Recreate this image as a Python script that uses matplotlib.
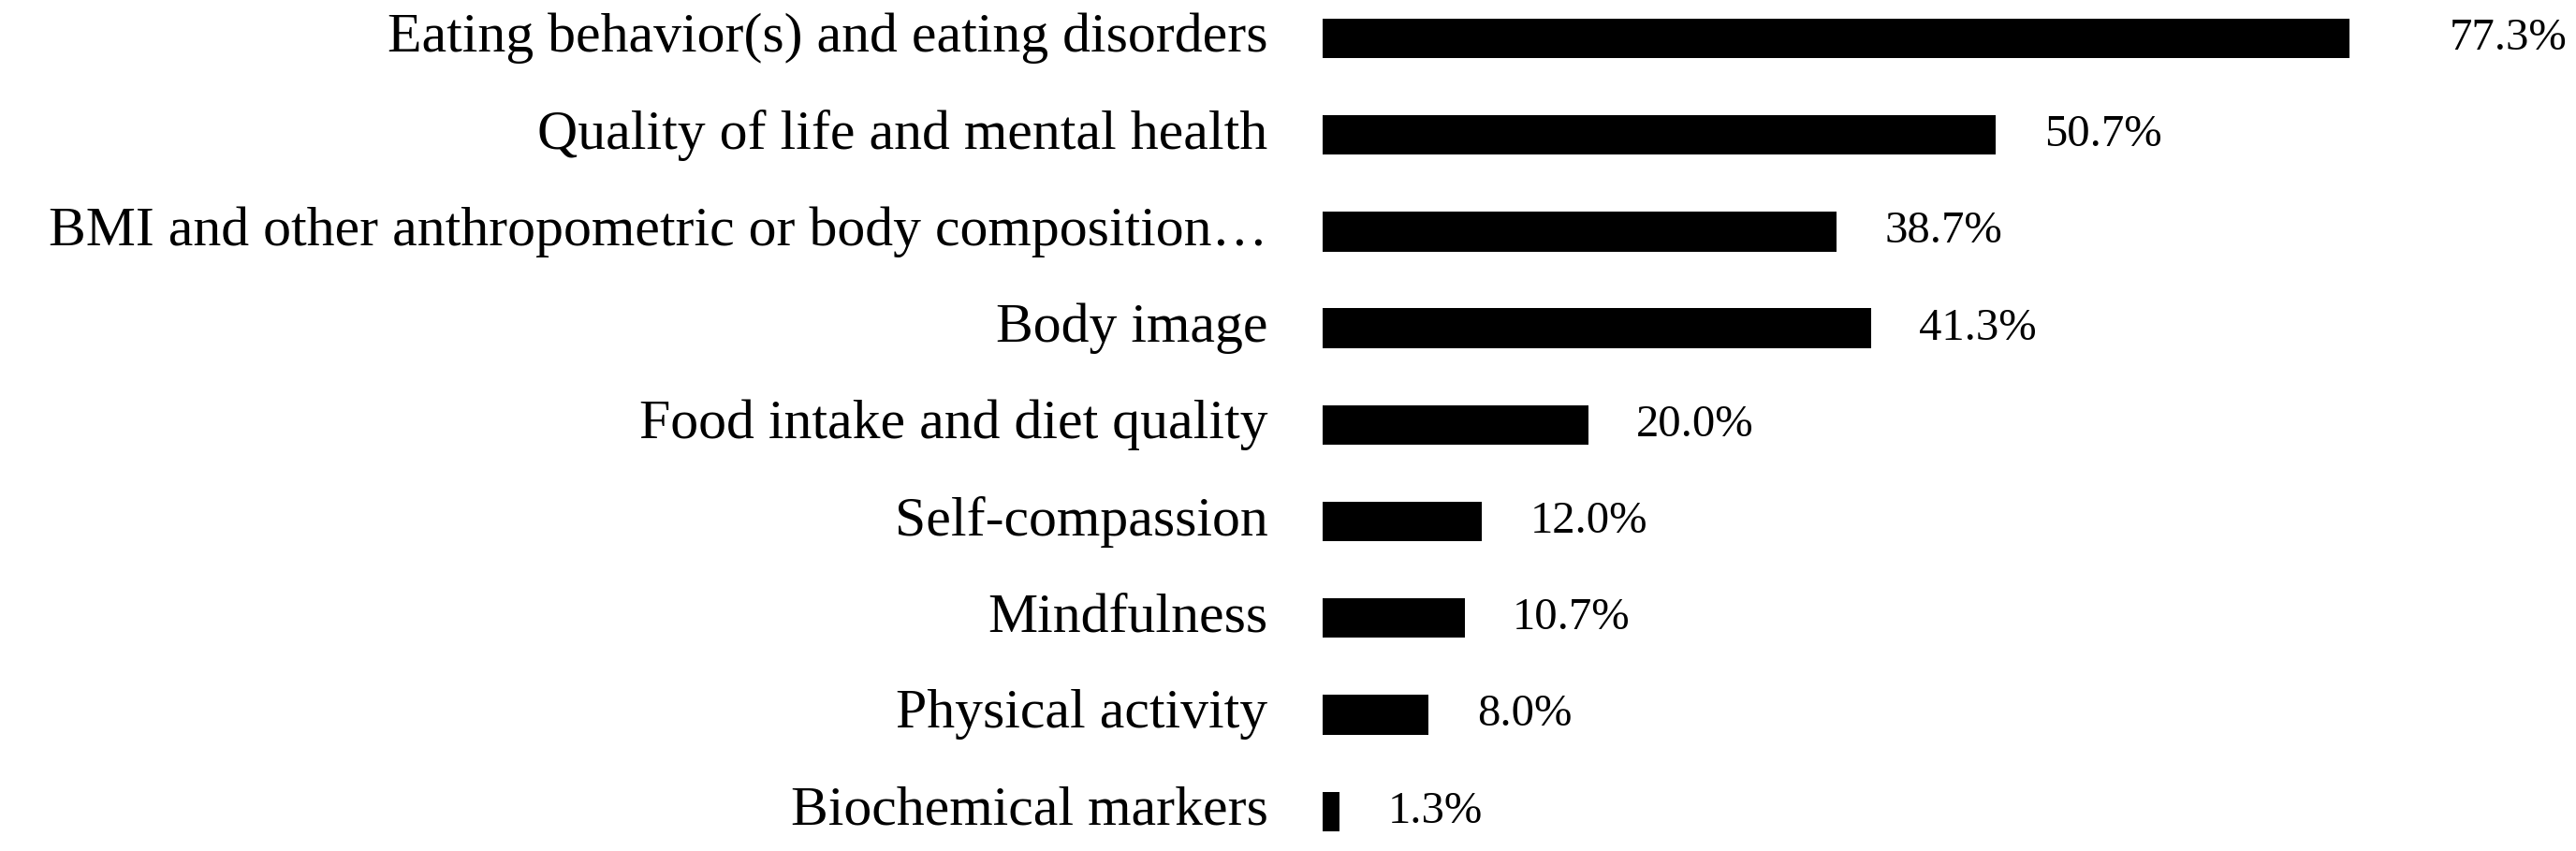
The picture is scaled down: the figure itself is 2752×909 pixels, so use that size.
import matplotlib
matplotlib.use('Agg')
import matplotlib.pyplot as plt

# Outcome domains and share of studies reporting each
categories = [
    'Eating behavior(s) and eating disorders',
    'Quality of life and mental health',
    'BMI and other anthropometric or body composition\u2026',
    'Body image',
    'Food intake and diet quality',
    'Self-compassion',
    'Mindfulness',
    'Physical activity',
    'Biochemical markers',
]
percentages = [77.3, 50.7, 38.7, 41.3, 20.0, 12.0, 10.7, 8.0, 1.3]

plt.rcParams['font.family'] = ['Liberation Serif', 'DejaVu Serif']

fig = plt.figure(figsize=(27.52, 9.09), dpi=100)
ax = fig.add_axes([0.5134, 0.0, 0.4866, 1.0])

y = list(range(len(categories)))
ax.barh(y, percentages, height=0.41, color='black')

ax.set_xlim(0, 94.36)
ax.set_ylim(8.41, -0.397)

for spine in ax.spines.values():
    spine.set_visible(False)
ax.set_xticks([])
ax.set_yticks([])

top = max(percentages)
for yi, (name, val) in enumerate(zip(categories, percentages)):
    ax.annotate(name, xy=(0, yi), xytext=(-42, 0), textcoords='offset points',
                ha='right', va='center', fontsize=43)
    # the longest bar's label sits further out
    gap = 77 if val == top else 37
    ax.annotate(f'{val:.1f}%', xy=(val, yi), xytext=(gap, 0), textcoords='offset points',
                ha='left', va='center', fontsize=35)

fig.savefig('out.png', dpi=100)
